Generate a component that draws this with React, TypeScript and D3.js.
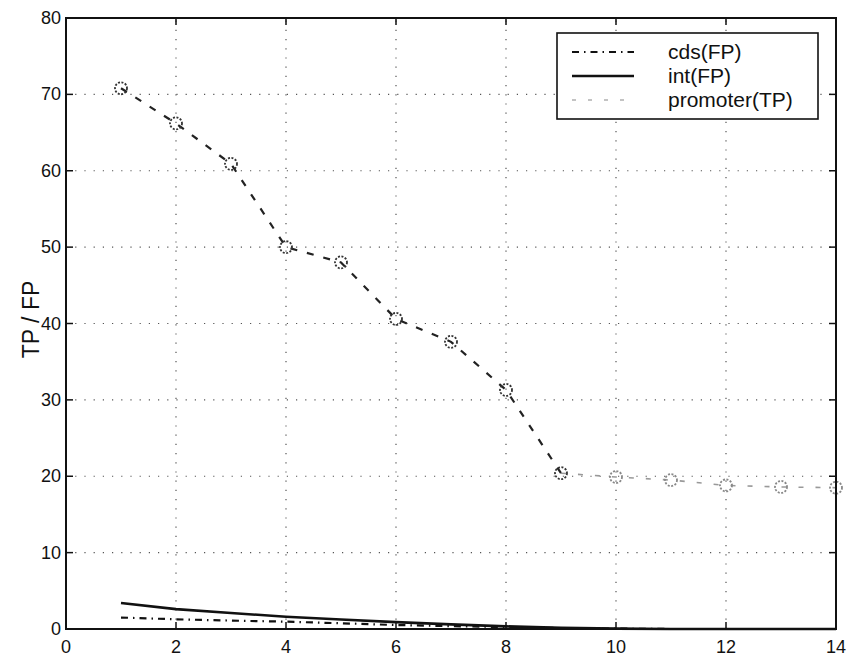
import React, { useEffect, useRef } from "react";
import * as d3 from "d3";

// Threshold index along the x axis
const xValues = [1, 2, 3, 4, 5, 6, 7, 8, 9, 10, 11, 12, 13, 14];
// Series values
const cdsFP = [1.5, 1.27, 1.1, 0.96, 0.75, 0.52, 0.38, 0.25, 0.12, 0.05, 0, 0, 0, 0];
const intFP = [3.4, 2.6, 2.1, 1.6, 1.25, 0.9, 0.6, 0.35, 0.15, 0.05, 0, 0, 0, 0];
const promoterTP = [70.8, 66.2, 60.9, 50.0, 48.0, 40.6, 37.6, 31.3, 20.4, 19.9, 19.5, 18.8, 18.6, 18.5];
// Tick labels
const xTicks = [0, 2, 4, 6, 8, 10, 12, 14];
const yTicks = [0, 10, 20, 30, 40, 50, 60, 70, 80];
const legendLabels = ["cds(FP)", "int(FP)", "promoter(TP)"];

const W = 847;
const H = 667;
const M = { left: 66, right: 836, top: 18, bottom: 629 };
const FONT = "'Liberation Sans', Arial, Helvetica, sans-serif";

export default function App() {
  const ref = useRef<SVGSVGElement | null>(null);

  useEffect(() => {
    const svg = d3.select(ref.current);
    svg.selectAll("*").remove();

    const x = d3.scaleLinear().domain([0, 14]).range([M.left, M.right]);
    const y = d3.scaleLinear().domain([0, 80]).range([M.bottom, M.top]);

    svg.append("rect").attr("width", W).attr("height", H).attr("fill", "#fff");

    // dotted grid
    const grid = svg.append("g").attr("stroke", "#555").attr("stroke-width", 1.2).attr("stroke-dasharray", "1.2,8");
    xTicks.slice(1, -1).forEach((t) => {
      grid.append("line").attr("x1", x(t)).attr("x2", x(t)).attr("y1", M.bottom).attr("y2", M.top);
    });
    yTicks.slice(1, -1).forEach((t) => {
      grid.append("line").attr("x1", M.left).attr("x2", M.right).attr("y1", y(t)).attr("y2", y(t));
    });

    // ticks on all four sides, pointing inward
    const tl = 7;
    const ticks = svg.append("g").attr("stroke", "#111").attr("stroke-width", 1.5);
    xTicks.forEach((t) => {
      ticks.append("line").attr("x1", x(t)).attr("x2", x(t)).attr("y1", M.bottom).attr("y2", M.bottom - tl);
      ticks.append("line").attr("x1", x(t)).attr("x2", x(t)).attr("y1", M.top).attr("y2", M.top + tl);
    });
    yTicks.forEach((t) => {
      ticks.append("line").attr("x1", M.left).attr("x2", M.left + tl).attr("y1", y(t)).attr("y2", y(t));
      ticks.append("line").attr("x1", M.right).attr("x2", M.right - tl).attr("y1", y(t)).attr("y2", y(t));
    });

    // tick labels
    svg.append("g").selectAll("text").data(xTicks).join("text")
      .attr("x", (d) => x(d)).attr("y", 653)
      .attr("text-anchor", "middle").attr("font-family", FONT).attr("font-size", 18).attr("fill", "#111")
      .text((d) => String(d));
    svg.append("g").selectAll("text").data(yTicks).join("text")
      .attr("x", M.left - 5).attr("y", (d) => y(d) + 6)
      .attr("text-anchor", "end").attr("font-family", FONT).attr("font-size", 18).attr("fill", "#111")
      .text((d) => String(d));

    // y axis title
    svg.append("text")
      .attr("transform", `translate(39,${(M.top + M.bottom) / 2 - 4}) rotate(-90)`)
      .attr("text-anchor", "middle").attr("font-family", FONT).attr("font-size", 23).attr("fill", "#111")
      .text("TP / FP");

    const line = (vals: number[], from: number, to: number) =>
      d3.line<number>().x((_, i) => x(xValues[from + i])).y((d) => y(d))(vals.slice(from, to)) as string;

    // series
    svg.append("path").attr("d", line(intFP, 0, intFP.length)).attr("fill", "none").attr("stroke", "#111").attr("stroke-width", 2.6);
    svg.append("path").attr("d", line(cdsFP, 0, cdsFP.length)).attr("fill", "none").attr("stroke", "#111").attr("stroke-width", 2.2)
      .attr("stroke-dasharray", "7,5,1.5,5");
    // promoter curve: dark up to x = 9, faded tail afterwards
    svg.append("path").attr("d", line(promoterTP, 0, 9)).attr("fill", "none").attr("stroke", "#222").attr("stroke-width", 2.2)
      .attr("stroke-dasharray", "7,10");
    svg.append("path").attr("d", line(promoterTP, 8, promoterTP.length)).attr("fill", "none").attr("stroke", "#999").attr("stroke-width", 1.6)
      .attr("stroke-dasharray", "5,12");
    svg.append("g").selectAll("circle").data(promoterTP).join("circle")
      .attr("cx", (_, i) => x(xValues[i])).attr("cy", (d) => y(d)).attr("r", 6)
      .attr("fill", "none").attr("stroke", (_, i) => (i < 9 ? "#333" : "#888"))
      .attr("stroke-width", 1.8).attr("stroke-dasharray", "2,1.5");

    // axes box
    svg.append("rect").attr("x", M.left).attr("y", M.top).attr("width", M.right - M.left).attr("height", M.bottom - M.top)
      .attr("fill", "none").attr("stroke", "#111").attr("stroke-width", 2);

    // legend
    const lg = svg.append("g");
    lg.append("rect").attr("x", 557).attr("y", 33).attr("width", 261).attr("height", 86)
      .attr("fill", "#fff").attr("stroke", "#111").attr("stroke-width", 1.6);
    const rowY = [52, 76, 100];
    const styles = [
      { dash: "7,5,1.5,5", w: 2.2, c: "#111" },
      { dash: null, w: 2.6, c: "#111" },
      { dash: "4,12", w: 1.2, c: "#888" },
    ];
    legendLabels.forEach((lab, i) => {
      const ln = lg.append("line").attr("x1", 572).attr("x2", 634).attr("y1", rowY[i]).attr("y2", rowY[i])
        .attr("stroke", styles[i].c).attr("stroke-width", styles[i].w);
      if (styles[i].dash) ln.attr("stroke-dasharray", styles[i].dash);
      lg.append("text").attr("x", 668).attr("y", rowY[i] + 7).attr("font-family", FONT).attr("font-size", 21)
        .attr("fill", "#111").text(lab);
    });
  }, []);

  return (
    <svg ref={ref} width={W} height={H} style={{ position: "absolute", left: 0, top: 0, display: "block" }} />
  );
}
